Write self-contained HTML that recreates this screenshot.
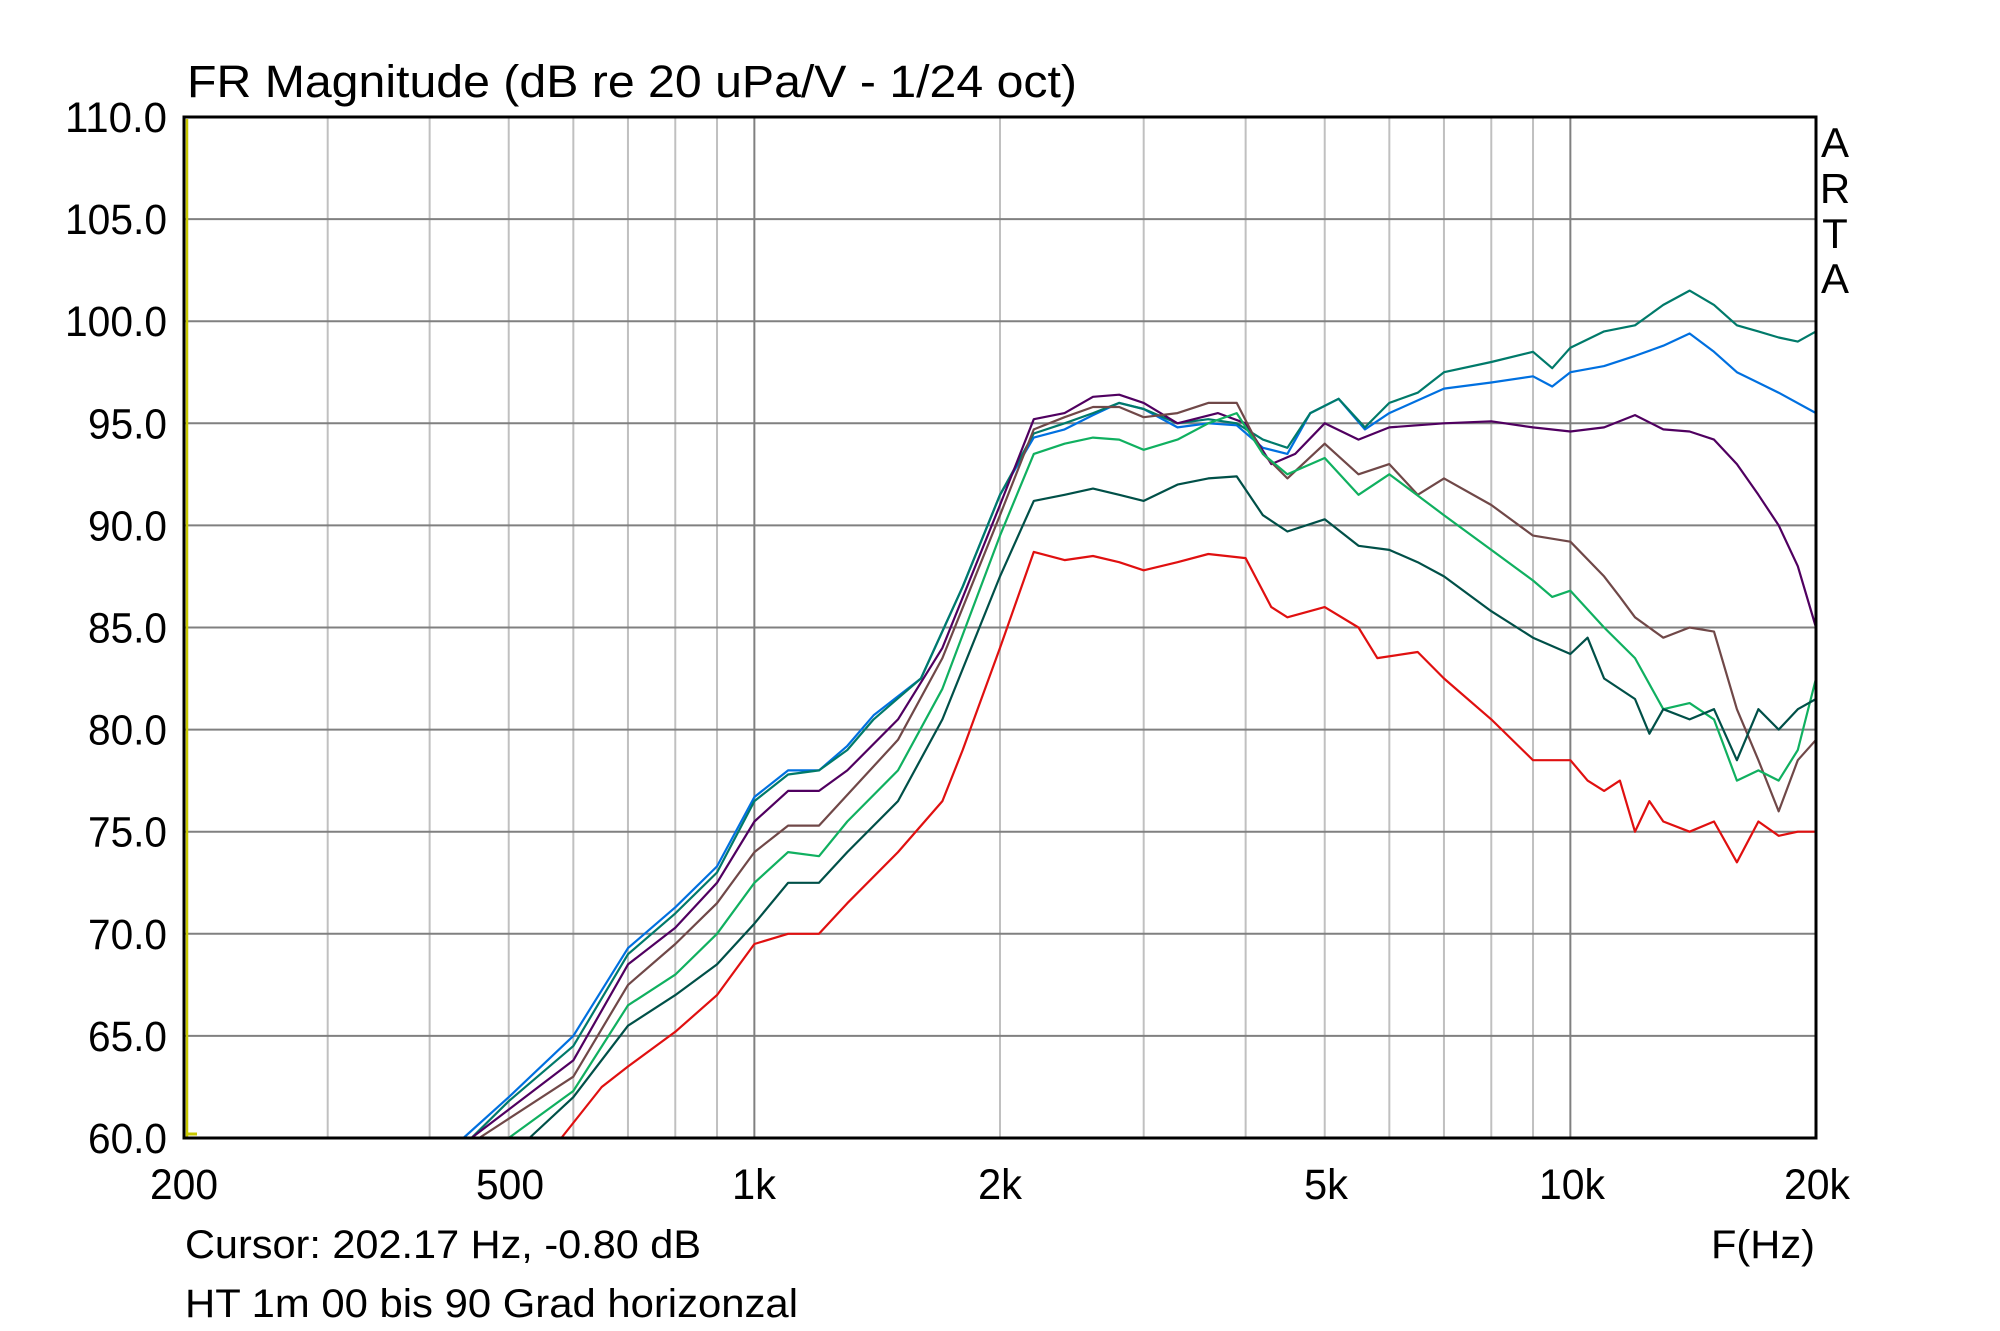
<!DOCTYPE html>
<html><head><meta charset="utf-8"><style>
html,body{margin:0;padding:0;background:#fff;}
svg{display:block;}
text{font-family:"Liberation Sans",Arial,sans-serif;fill:#000;}
</style></head><body>
<svg id="s" width="2000" height="1331" xmlns="http://www.w3.org/2000/svg">
<rect width="2000" height="1331" fill="#fff"/>
<g id="grid"></g>
<g id="curves" fill="none" stroke-width="2.2" stroke-linejoin="round"></g>
<line x1="187" y1="119" x2="187" y2="1137" stroke="#c8c800" stroke-width="2.5"/>
<line x1="187" y1="1134" x2="197" y2="1134" stroke="#c8c800" stroke-width="3"/>
<rect x="184" y="117" width="1632" height="1021" fill="none" stroke="#000" stroke-width="3"/>
<text x="187" y="97" font-size="45" textLength="890" lengthAdjust="spacingAndGlyphs">FR Magnitude (dB re 20 uPa/V - 1/24 oct)</text>
<g id="ylab" font-size="43" text-anchor="end"></g>
<g font-size="43" text-anchor="middle">
<text x="184" y="1199" textLength="68" lengthAdjust="spacingAndGlyphs">200</text>
<text x="510" y="1199" textLength="68" lengthAdjust="spacingAndGlyphs">500</text>
<text x="754" y="1199" textLength="44" lengthAdjust="spacingAndGlyphs">1k</text>
<text x="1000" y="1199" textLength="44" lengthAdjust="spacingAndGlyphs">2k</text>
<text x="1326" y="1199" textLength="44" lengthAdjust="spacingAndGlyphs">5k</text>
<text x="1572" y="1199" textLength="66" lengthAdjust="spacingAndGlyphs">10k</text>
<text x="1817" y="1199" textLength="66" lengthAdjust="spacingAndGlyphs">20k</text>
</g>
<g font-size="42" text-anchor="middle">
<text x="1835" y="157">A</text>
<text x="1835" y="203">R</text>
<text x="1835" y="248">T</text>
<text x="1835" y="293">A</text>
</g>
<text x="1815" y="1258" font-size="40" text-anchor="end" textLength="104" lengthAdjust="spacingAndGlyphs">F(Hz)</text>
<text x="185" y="1258" font-size="40" textLength="516" lengthAdjust="spacingAndGlyphs">Cursor: 202.17 Hz, -0.80 dB</text>
<text x="185" y="1317" font-size="40" textLength="613" lengthAdjust="spacingAndGlyphs">HT 1m 00 bis 90 Grad horizonzal</text>
</svg>
<script>
var NS="http://www.w3.org/2000/svg";
function X(f){return 184+1632*Math.log10(f/200)/2;}
function Y(d){return 1138-(d-60)*20.42;}
var g=document.getElementById("grid");
function ln(x1,y1,x2,y2,c){var l=document.createElementNS(NS,"line");l.setAttribute("x1",x1);l.setAttribute("y1",y1);l.setAttribute("x2",x2);l.setAttribute("y2",y2);l.setAttribute("stroke",c);l.setAttribute("stroke-width","2");g.appendChild(l);}
var fs=[300,400,500,600,700,800,900,2000,3000,4000,5000,6000,7000,8000,9000];
fs.forEach(function(f){ln(X(f),117,X(f),1138,"#c0c0c0");});
[1000,10000].forEach(function(f){ln(X(f),117,X(f),1138,"#808080");});
var yl=document.getElementById("ylab");
for(var d=60;d<=110;d+=5){if(d>60&&d<110)ln(184,Y(d),1816,Y(d),"#808080");
var t=document.createElementNS(NS,"text");t.setAttribute("x",167);t.setAttribute("y",Y(d)+15);
var s=d.toFixed(1);t.setAttribute("textLength",s.length==5?102:79);t.setAttribute("lengthAdjust","spacingAndGlyphs");
t.textContent=s;yl.appendChild(t);}
var C=[
["#0070e0",[[440,60],[500,62],[600,65],[700,69.3],[800,71.3],[900,73.3],[1000,76.7],[1100,78],[1200,78],[1300,79.2],[1400,80.7],[1600,82.5],[1800,87],[2000,91.5],[2200,94.3],[2400,94.7],[2600,95.4],[2800,96],[3000,95.7],[3300,94.8],[3600,95],[3900,94.9],[4200,93.8],[4500,93.5],[4800,95.5],[5200,96.2],[5600,94.7],[6000,95.5],[7000,96.7],[8000,97],[9000,97.3],[9500,96.8],[10000,97.5],[11000,97.8],[12000,98.3],[13000,98.8],[14000,99.4],[15000,98.5],[16000,97.5],[18000,96.5],[20000,95.5]]],
["#007a6a",[[450,60],[500,61.8],[600,64.5],[700,69],[800,71],[900,73],[1000,76.5],[1100,77.8],[1200,78],[1300,79],[1400,80.5],[1600,82.5],[1800,87],[2000,91.5],[2200,94.5],[2400,95],[2600,95.5],[2800,96],[3000,95.7],[3300,95],[3600,95.2],[3900,95],[4200,94.2],[4500,93.8],[4800,95.5],[5200,96.2],[5600,94.8],[6000,96],[6500,96.5],[7000,97.5],[8000,98],[9000,98.5],[9500,97.7],[10000,98.7],[11000,99.5],[12000,99.8],[13000,100.8],[14000,101.5],[15000,100.8],[16000,99.8],[17000,99.5],[18000,99.2],[19000,99],[20000,99.5]]],
["#500060",[[450,60],[600,63.8],[700,68.5],[800,70.3],[900,72.5],[1000,75.5],[1100,77],[1200,77],[1300,78],[1500,80.5],[1700,84],[2000,91],[2200,95.2],[2400,95.5],[2600,96.3],[2800,96.4],[3000,96],[3300,95],[3700,95.5],[4000,95],[4300,93],[4600,93.5],[5000,95],[5500,94.2],[6000,94.8],[7000,95],[8000,95.1],[9000,94.8],[10000,94.6],[11000,94.8],[12000,95.4],[13000,94.7],[14000,94.6],[15000,94.2],[16000,93],[17000,91.5],[18000,90],[19000,88],[20000,85]]],
["#704848",[[460,60],[600,63],[700,67.5],[800,69.5],[900,71.5],[1000,74],[1100,75.3],[1200,75.3],[1300,76.8],[1500,79.5],[1700,83.5],[2000,90.5],[2200,94.7],[2400,95.3],[2600,95.8],[2800,95.8],[3000,95.3],[3300,95.5],[3600,96],[3900,96],[4200,93.5],[4500,92.3],[5000,94],[5500,92.5],[6000,93],[6500,91.5],[7000,92.3],[8000,91],[9000,89.5],[10000,89.2],[11000,87.5],[11500,86.5],[12000,85.5],[13000,84.5],[14000,85],[15000,84.8],[16000,81],[17000,78.5],[18000,76],[19000,78.5],[20000,79.5]]],
["#10b060",[[500,60],[600,62.3],[700,66.5],[800,68],[900,70],[1000,72.5],[1100,74],[1200,73.8],[1300,75.5],[1500,78],[1700,82],[2000,89.5],[2200,93.5],[2400,94],[2600,94.3],[2800,94.2],[3000,93.7],[3300,94.2],[3600,95],[3900,95.5],[4200,93.5],[4500,92.5],[5000,93.3],[5500,91.5],[6000,92.5],[7000,90.5],[8000,88.8],[9000,87.3],[9500,86.5],[10000,86.8],[11000,85],[12000,83.5],[13000,81],[14000,81.3],[15000,80.5],[16000,77.5],[17000,78],[18000,77.5],[19000,79],[20000,82.5]]],
["#005048",[[530,60],[600,62],[700,65.5],[800,67],[900,68.5],[1000,70.5],[1100,72.5],[1200,72.5],[1300,74],[1500,76.5],[1700,80.5],[2000,87.5],[2200,91.2],[2400,91.5],[2600,91.8],[2800,91.5],[3000,91.2],[3300,92],[3600,92.3],[3900,92.4],[4200,90.5],[4500,89.7],[5000,90.3],[5500,89],[6000,88.8],[6500,88.2],[7000,87.5],[8000,85.8],[9000,84.5],[10000,83.7],[10500,84.5],[11000,82.5],[12000,81.5],[12500,79.8],[13000,81],[14000,80.5],[15000,81],[16000,78.5],[17000,81],[18000,80],[19000,81],[20000,81.5]]],
["#e01010",[[580,60],[650,62.5],[700,63.5],[800,65.2],[900,67],[1000,69.5],[1100,70],[1200,70],[1300,71.5],[1500,74],[1700,76.5],[1800,79],[2000,84],[2200,88.7],[2400,88.3],[2600,88.5],[2800,88.2],[3000,87.8],[3300,88.2],[3600,88.6],[4000,88.4],[4300,86],[4500,85.5],[5000,86],[5500,85],[5800,83.5],[6500,83.8],[7000,82.5],[8000,80.5],[9000,78.5],[10000,78.5],[10500,77.5],[11000,77],[11500,77.5],[12000,75],[12500,76.5],[13000,75.5],[14000,75],[15000,75.5],[16000,73.5],[17000,75.5],[18000,74.8],[19000,75],[20000,75]]]
];
var cg=document.getElementById("curves");
C.forEach(function(c){var p=document.createElementNS(NS,"polyline");
p.setAttribute("points",c[1].map(function(q){return X(q[0]).toFixed(1)+","+Y(q[1]).toFixed(1);}).join(" "));
p.setAttribute("stroke",c[0]);cg.appendChild(p);});
</script>
</body></html>
